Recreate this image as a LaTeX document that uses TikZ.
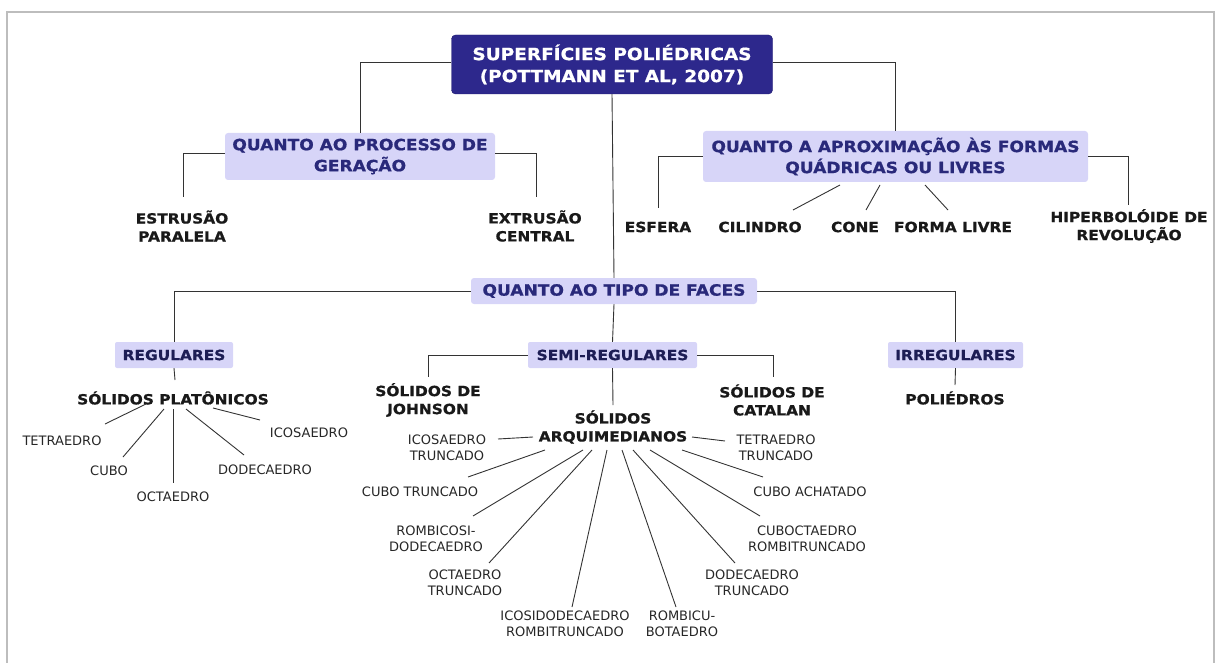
\documentclass[tikz,border=0pt]{standalone}
\usepackage{fontspec}
\setmainfont{DejaVu Sans}[BoldFeatures={FakeStretch=1.1,FakeBold=0.9}]
\definecolor{rootblue}{HTML}{2D288C}
\definecolor{rootedge}{HTML}{1E1A6E}
\definecolor{lav}{HTML}{D7D5F8}
\definecolor{navy}{HTML}{29297A}
\definecolor{framegray}{HTML}{BDBDBD}
\definecolor{linegray}{HTML}{333333}
\tikzset{
  rootbox/.style={fill=rootblue, draw=rootedge, rounded corners=4pt, text=white,
    font=\bfseries\fontsize{16.8}{22}\selectfont, align=center, inner sep=0pt},
  catbox/.style={fill=lav, rounded corners=3pt, text=navy,
    font=\bfseries\fontsize{15.5}{21}\selectfont, align=center, inner sep=0pt},
  subbox/.style={fill=lav, rounded corners=2pt, text=navy!70!black,
    font=\bfseries\fontsize{14}{18}\selectfont, align=center, inner sep=0pt},
  leaf/.style={text=black!90, font=\bfseries\fontsize{14}{18}\selectfont, align=center, inner sep=2pt},
  item/.style={text=black!85, font=\fontsize{13}{16.5}\selectfont, align=center, inner sep=2pt},
  conn/.style={draw=linegray, line width=0.9pt},
  framel/.style={draw=framegray, line width=1.6pt}
}
\begin{document}
\begin{tikzpicture}[x=1pt,y=-1pt]
\useasboundingbox (0,0) rectangle (1217,663);
\draw[framel] (7,663) -- (7,12) -- (1214,12) -- (1214,663);

% boxes
\node[rootbox, minimum width=321pt, minimum height=59pt] (root) at (612,64.5) {SUPERFÍCIES POLIÉDRICAS\\(POTTMANN ET AL, 2007)};
\node[catbox, minimum width=270pt, minimum height=47pt] (proc) at (360,156.5) {QUANTO AO PROCESSO DE\\GERAÇÃO};
\node[catbox, minimum width=385pt, minimum height=51pt] (appr) at (895.5,156.5) {QUANTO A APROXIMAÇÃO ÀS FORMAS\\QUÁDRICAS OU LIVRES};
\node[catbox, minimum width=286pt, minimum height=26pt] (faces) at (614,291) {QUANTO AO TIPO DE FACES};
\node[subbox, minimum width=118pt, minimum height=26pt] (reg) at (174,355) {REGULARES};
\node[subbox, minimum width=169pt, minimum height=26pt] (semi) at (612.5,355) {SEMI-REGULARES};
\node[subbox, minimum width=135pt, minimum height=26pt] (irr) at (955.5,355) {IRREGULARES};

% bold leaves
\node[leaf] (estr) at (182,226) {ESTRUSÃO\\PARALELA};
\node[leaf] (extr) at (535,226) {EXTRUSÃO\\CENTRAL};
\node[leaf] (esf) at (658,227) {ESFERA};
\node[leaf] (cil) at (760,227) {CILINDRO};
\node[leaf] (cone) at (855,227) {CONE};
\node[leaf] (forma) at (953,227) {FORMA LIVRE};
\node[leaf] (hip) at (1129,226) {HIPERBOLÓIDE DE\\REVOLUÇÃO};
\node[leaf] (plat) at (173,398) {SÓLIDOS PLATÔNICOS};
\node[leaf] (john) at (428,400) {SÓLIDOS DE\\JOHNSON};
\node[leaf] (cat) at (772,400) {SÓLIDOS DE\\CATALAN};
\node[leaf] (arq) at (613,427) {SÓLIDOS\\ARQUIMEDIANOS};
\node[leaf] (poli) at (955,398) {POLIÉDROS};

% regular items
\node[item] (tetra) at (62,441) {TETRAEDRO};
\node[item] (cubo) at (109,471) {CUBO};
\node[item] (octa) at (173,497) {OCTAEDRO};
\node[item] (dodeca) at (265,470) {DODECAEDRO};
\node[item] (icosa) at (309,433) {ICOSAEDRO};
\node[item] (icosatr) at (447,448) {ICOSAEDRO\\TRUNCADO};
\node[item] (tetratr) at (776,448) {TETRAEDRO\\TRUNCADO};
\node[item] (cubotr) at (420,492) {CUBO TRUNCADO};
\node[item] (cuboach) at (810,492) {CUBO ACHATADO};
\node[item] (rombicosi) at (436,539) {ROMBICOSI-\\DODECAEDRO};
\node[item] (cuboct) at (807,539) {CUBOCTAEDRO\\ROMBITRUNCADO};
\node[item] (octatr) at (465,583) {OCTAEDRO\\TRUNCADO};
\node[item] (dodecatr) at (752,583) {DODECAEDRO\\TRUNCADO};
\node[item] (icosido) at (565,624) {ICOSIDODECAEDRO\\ROMBITRUNCADO};
\node[item] (rombicu) at (682,624) {ROMBICU-\\BOTAEDRO};

% connector end points
\coordinate (estrT) at (183,197);
\coordinate (extrT) at (536,197);
\coordinate (esfT) at (658,208);
\coordinate (hipT) at (1128,205);
\coordinate (platT) at (175,380);
\coordinate (johnT) at (428,377);
\coordinate (catT) at (773,377);
\coordinate (arqT) at (613,405);
\coordinate (poliT) at (955,385);

% tree connectors
\draw[conn] (root.west |- 0,62) -| (proc.north);
\draw[conn] (root.east |- 0,62) -| (appr.north);
\draw[conn] (root.south) -- (faces.north);
\draw[conn] (proc.west |- 0,153) -| (estrT);
\draw[conn] (proc.east |- 0,153) -| (extrT);
\draw[conn] (appr.west) -| (esfT);
\draw[conn] (appr.east) -| (hipT);
\draw[conn] (faces.west) -| (reg.north);
\draw[conn] (faces.east) -| (irr.north);
\draw[conn] (faces.south) -- (semi.north);
\draw[conn] (reg.south) -- (platT);
\draw[conn] (semi.west) -| (johnT);
\draw[conn] (semi.east) -| (catT);
\draw[conn] (semi.south) -- (arqT);
\draw[conn] (irr.south) -- (poliT);

% approximation diagonals
\draw[conn] (840,185) -- (793,210);
\draw[conn] (880,185) -- (866,210);
\draw[conn] (925,185) -- (948,210);

% platonic diagonals
\draw[conn] (146,404) -- (105,424);
\draw[conn] (164,409) -- (123,457);
\draw[conn] (173,409) -- (173,483);
\draw[conn] (186,409) -- (244,455);
\draw[conn] (213,408) -- (260,420);

% archimedean diagonals
\draw[conn] (498,439) -- (533,437);
\draw[conn] (692,437) -- (725,441);
\draw[conn] (545,450) -- (468,477);
\draw[conn] (583,450) -- (473,516);
\draw[conn] (592,450) -- (489,563);
\draw[conn] (607,450) -- (572,607);
\draw[conn] (622,450) -- (676,607);
\draw[conn] (633,450) -- (735,563);
\draw[conn] (650,450) -- (760,516);
\draw[conn] (682,450) -- (763,477);
\end{tikzpicture}
\end{document}
